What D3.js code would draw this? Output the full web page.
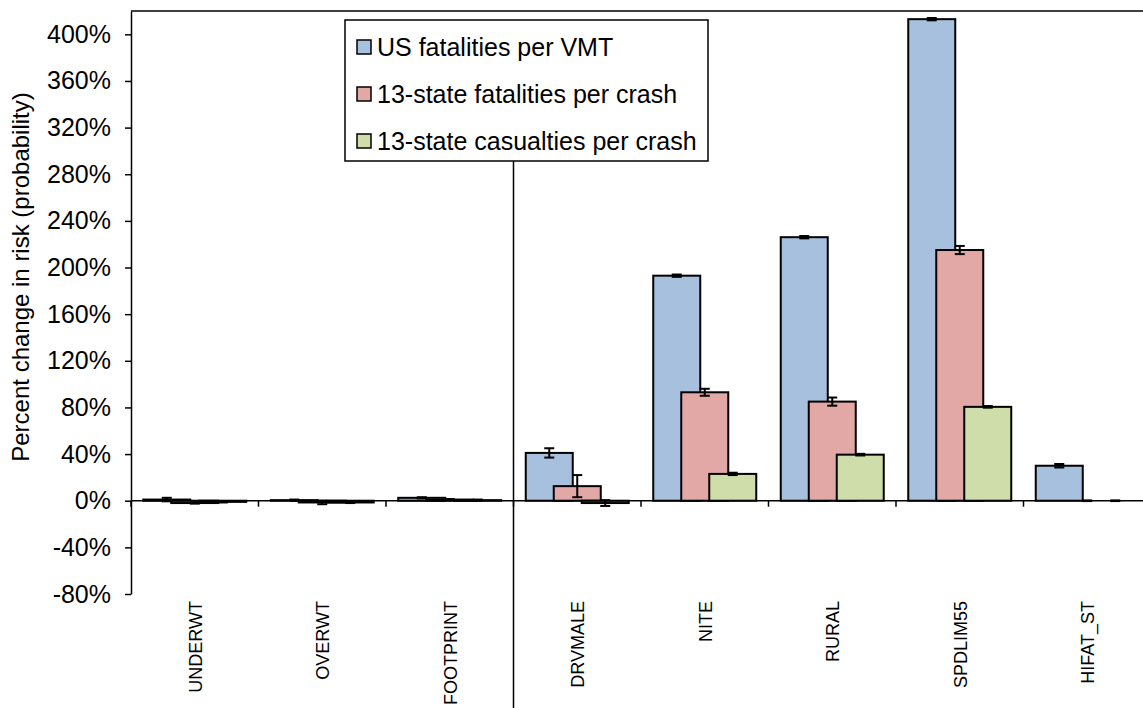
<!DOCTYPE html>
<html>
<head>
<meta charset="utf-8">
<script src="https://cdn.jsdelivr.net/npm/d3@7"></script>
<style>
  body { margin: 0; background: #fff; }
  svg { display: block; font-family: "Liberation Sans", Arial, sans-serif; }
</style>
</head>
<body>
<svg id="chart" width="1143" height="708"></svg>
<script>
// categories and series (values in percent change)
const categories = ["UNDERWT", "OVERWT", "FOOTPRINT", "DRVMALE", "NITE", "RURAL", "SPDLIM55", "HIFAT_ST"];
const seriesNames = ["US fatalities per VMT", "13-state fatalities per crash", "13-state casualties per crash"];
const seriesColors = ["#a7c0de", "#e2a8a6", "#cedda9"];

const usFatalVmt = [1, 0.5, 2.5, 41, 193, 226, 413, 30];
const usFatalVmtErr = [1.5, 0.5, 0.5, 4, 1, 1, 1, 1.5];
const stFatalCrash = [-2, -1.5, 1, 12.5, 93, 85, 215, 0];
const stFatalCrashErr = [0.5, 1.5, 0.5, 9.5, 3, 3.5, 3.5, 0.3];
const stCasualCrash = [-1, -1.5, 0.5, -2, 23, 39.5, 80.5, 0];
const stCasualCrashErr = [0.5, 0.5, 0.5, 2.5, 1, 0.7, 0.7, 0.3];

const yTicks = [-80, -40, 0, 40, 80, 120, 160, 200, 240, 280, 320, 360, 400];

const values = [usFatalVmt, stFatalCrash, stCasualCrash];
const errors = [usFatalVmtErr, stFatalCrashErr, stCasualCrashErr];

const svg = d3.select("#chart");

// plot area (the right side runs past the picture, like the original crop)
const plotLeft = 131, plotRight = 1151, plotTop = 11, plotBottom = 594;

const x = d3.scaleBand().domain(categories).range([plotLeft, plotRight]).paddingInner(0).paddingOuter(0);
const y = d3.scaleLinear().domain([-80, 420]).range([plotBottom, plotTop]);

// bars overlap: 47px wide, 28px step between series
const barW = x.bandwidth() * 47 / 127.5;
const inner = d3.scalePoint().domain(seriesNames).range([-x.bandwidth() * 28 / 127.5, x.bandwidth() * 28 / 127.5]);

// flatten the data
let rows = [];
seriesNames.forEach((s, si) => {
    categories.forEach((c, ci) => {
        rows.push({cat: c, series: s, si: si, v: values[si][ci], e: errors[si][ci]});
    });
});

// top border of plot area
svg.append("line")
    .attr("x1", plotLeft).attr("x2", 1143)
    .attr("y1", plotTop).attr("y2", plotTop)
    .attr("stroke", "#000").attr("stroke-width", 1.5);

// y axis
const yAxis = svg.append("g")
    .attr("transform", "translate(" + plotLeft + ",0)")
    .call(d3.axisLeft(y).tickValues(yTicks).tickSize(6).tickSizeOuter(0).tickFormat(d => d + "%"));
yAxis.select(".domain").attr("stroke", "#000").attr("stroke-width", 1.5);
yAxis.selectAll(".tick line").attr("stroke", "#000").attr("stroke-width", 1.5);
yAxis.selectAll(".tick text")
    .attr("x", -20)
    .attr("font-size", 25)
    .attr("font-family", "Liberation Sans, Arial, sans-serif")
    .attr("fill", "#000");

// y axis title
svg.append("text")
    .attr("transform", "translate(29," + 277 + ") rotate(-90)")
    .attr("text-anchor", "middle")
    .attr("font-size", 24)
    .attr("fill", "#000")
    .text("Percent change in risk (probability)");

// bars
const barX = d => x(d.cat) + x.bandwidth() / 2 + inner(d.series) - barW / 2;
svg.selectAll("rect.bar")
    .data(rows)
    .enter()
    .append("rect")
    .attr("class", "bar")
    .attr("x", barX)
    .attr("y", d => y(Math.max(0, d.v)))
    .attr("width", barW)
    .attr("height", d => Math.abs(y(d.v) - y(0)))
    .attr("fill", d => seriesColors[d.si])
    .attr("stroke", "#000")
    .attr("stroke-width", 2);

// x axis at zero
const xAxis = svg.append("g")
    .attr("transform", "translate(0," + y(0) + ")");
xAxis.append("line")
    .attr("x1", plotLeft).attr("x2", plotRight)
    .attr("stroke", "#000").attr("stroke-width", 1.5);
xAxis.selectAll("line.tk")
    .data(categories.concat(["end"]))
    .enter()
    .append("line")
    .attr("class", "tk")
    .attr("x1", (d, i) => plotLeft + i * x.bandwidth())
    .attr("x2", (d, i) => plotLeft + i * x.bandwidth())
    .attr("y1", 0).attr("y2", 6)
    .attr("stroke", "#000").attr("stroke-width", 1.5);

// error bars
const cap = 5;
const eb = svg.selectAll("g.err")
    .data(rows)
    .enter()
    .append("g")
    .attr("class", "err")
    .attr("transform", d => "translate(" + (barX(d) + barW / 2) + ",0)");
eb.append("line")
    .attr("y1", d => y(d.v - d.e)).attr("y2", d => y(d.v + d.e))
    .attr("stroke", "#000").attr("stroke-width", 2);
eb.append("line")
    .attr("x1", -cap).attr("x2", cap)
    .attr("y1", d => y(d.v + d.e)).attr("y2", d => y(d.v + d.e))
    .attr("stroke", "#000").attr("stroke-width", 2);
eb.append("line")
    .attr("x1", -cap).attr("x2", cap)
    .attr("y1", d => y(d.v - d.e)).attr("y2", d => y(d.v - d.e))
    .attr("stroke", "#000").attr("stroke-width", 2);

// category labels, rotated
svg.selectAll("text.cat")
    .data(categories)
    .enter()
    .append("text")
    .attr("class", "cat")
    .attr("transform", d => "translate(" + (x(d) + x.bandwidth() / 2 + 7) + ",601) rotate(-90)")
    .attr("text-anchor", "end")
    .attr("font-size", 18)
    .attr("fill", "#000")
    .text(d => d);

// divider between vehicle and other variables
const legBox = {x: 345, y: 20, w: 363, h: 141};
svg.append("line")
    .attr("x1", x("DRVMALE")).attr("x2", x("DRVMALE"))
    .attr("y1", legBox.y + legBox.h).attr("y2", 708)
    .attr("stroke", "#000").attr("stroke-width", 1.5);

// legend
const legend = svg.append("g");
legend.append("rect")
    .attr("x", legBox.x).attr("y", legBox.y)
    .attr("width", legBox.w).attr("height", legBox.h)
    .attr("fill", "#fff").attr("stroke", "#000").attr("stroke-width", 1.5);
const legItem = legend.selectAll("g.item")
    .data(seriesNames)
    .enter()
    .append("g")
    .attr("class", "item")
    .attr("transform", (d, i) => "translate(" + (legBox.x + 12) + "," + (legBox.y + 27 + i * 47) + ")");
legItem.append("rect")
    .attr("x", 0).attr("y", -7)
    .attr("width", 14).attr("height", 14)
    .attr("fill", (d, i) => seriesColors[i])
    .attr("stroke", "#000").attr("stroke-width", 1.5);
legItem.append("text")
    .attr("x", 20).attr("y", 9)
    .attr("font-size", 25)
    .attr("fill", "#000")
    .text(d => d);
</script>
</body>
</html>
